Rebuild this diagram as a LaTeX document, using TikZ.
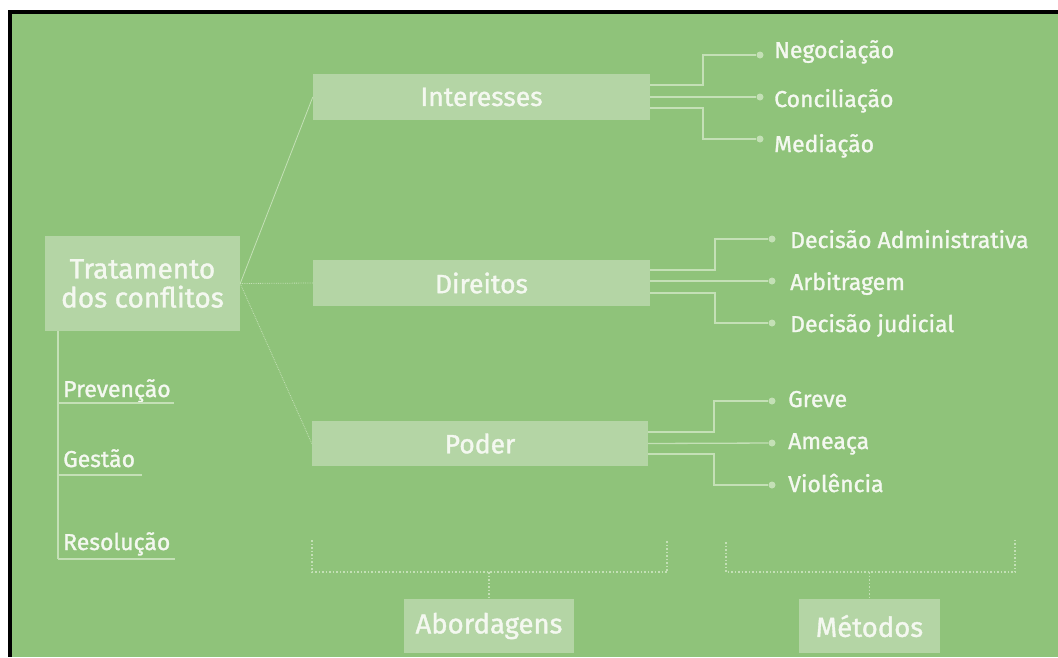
\documentclass[tikz,border=0pt]{standalone}
\usepackage{fontspec}
\setmainfont{Fira Sans}[FakeBold=1.3]
\usetikzlibrary{calc}
\definecolor{bg}{HTML}{8FC37A}
\definecolor{boxc}{HTML}{B4D5A5}
\definecolor{txt}{HTML}{F4F8F0}
\definecolor{lnc}{HTML}{C4E0B6}
\tikzset{
  box/.style={fill=boxc, draw=none, text=txt, inner sep=0pt, font=\fontsize{26.5}{30}\selectfont},
  lbl/.style={text=txt, inner sep=0pt, font=\fontsize{23}{26}\selectfont, anchor=base west},
  br/.style={draw=lnc, line width=1.3pt},
  conn/.style={draw=lnc, line width=0.8pt},
  dotc/.style={circle, fill=lnc, draw=none, minimum size=7pt, inner sep=0pt},
  brk/.style={draw=lnc, line width=1.4pt, dash pattern=on 1.5pt off 2pt}
}
\begin{document}
\begin{tikzpicture}[x=1pt,y=-1pt]
\useasboundingbox (0,0) rectangle (1058,657);
\fill[white] (0,0) rectangle (1058,657);
\fill[black] (8,10) rectangle (1058,657);
\fill[bg] (12,14) rectangle (1058,657);

% main boxes
\node[box, minimum width=195pt, minimum height=95pt, align=center, font=\fontsize{28}{29}\selectfont] (trat) at (142.5,283.5) {Tratamento\\dos conflitos};
\node[box, minimum width=337pt, minimum height=46pt] (int) at (481.5,97) {Interesses};
\node[box, minimum width=337pt, minimum height=46pt] (dir) at (481.5,283) {Direitos};
\node[box, minimum width=336pt, minimum height=45pt] (pod) at (480,443.5) {Poder};
\node[box, minimum width=170pt, minimum height=54pt, font=\fontsize{27.5}{30}\selectfont] (abo) at (489,626) {Abordagens};
\node[box, minimum width=141pt, minimum height=54pt, font=\fontsize{27.5}{30}\selectfont] (met) at (869.5,626) {Métodos};

% connectors from Tratamento
\draw[conn] (trat.east) -- (int.west);
\draw[conn, densely dotted] (trat.east) -- (dir.west);
\draw[conn, densely dotted] (trat.east) -- (pod.west);

% left column
\coordinate (vtop) at (58,331);
\coordinate (vbot) at (58,559);
\draw[br] (vtop) -- (vbot);
\node[lbl] (prev) at (63,397) {Prevenção};
\node[lbl] (gest) at (63,467) {Gestão};
\node[lbl] (reso) at (63,550) {Resolução};
\coordinate (u1) at (58,403); \coordinate (u1e) at (174,403);
\coordinate (u2) at (58,475); \coordinate (u2e) at (142,475);
\coordinate (u3) at (58,559); \coordinate (u3e) at (175,559);
\draw[br] (u1) -- (u1e);
\draw[br] (u2) -- (u2e);
\draw[br] (u3) -- (u3e);

% Interesses methods
\node[dotc] (i1) at (760,55) {};
\node[dotc] (i2) at (760,97) {};
\node[dotc] (i3) at (760,139) {};
\draw[br] ($(int.east)+(0,-12)$) -- (703,85) |- (i1);
\draw[br] (int.east) -- (i2);
\draw[br] ($(int.east)+(0,11)$) -- (703,108) |- (i3);
\node[lbl] (neg) at (774,58) {Negociação};
\node[lbl] (con) at (774,107) {Conciliação};
\node[lbl] (med) at (774,152) {Mediação};

% Direitos methods
\node[dotc] (d1) at (772,239) {};
\node[dotc] (d2) at (772,281) {};
\node[dotc] (d3) at (772,323) {};
\draw[br] ($(dir.east)+(0,-13)$) -- (715,270) |- (d1);
\draw[br] ($(dir.east)+(0,-2)$) -- (d2);
\draw[br] ($(dir.east)+(0,10)$) -- (715,293) |- (d3);
\node[lbl] (dad) at (790,248) {Decisão Administrativa};
\node[lbl] (arb) at (790,290) {Arbitragem};
\node[lbl] (dju) at (790,332) {Decisão judicial};

% Poder methods
\node[dotc] (p1) at (772,401) {};
\node[dotc] (p2) at (772,443) {};
\node[dotc] (p3) at (772,485) {};
\draw[br] ($(pod.east)+(0,-11.5)$) -- (714,432) |- (p1);
\draw[br] (pod.east) -- (p2);
\draw[br] ($(pod.east)+(0,10.5)$) -- (714,454) |- (p3);
\node[lbl] (gre) at (788,407) {Greve};
\node[lbl] (ame) at (788,449) {Ameaça};
\node[lbl] (vio) at (788,492) {Violência};

% brackets
\coordinate (b1a) at (312,540); \coordinate (b1b) at (312,572);
\coordinate (b1c) at (667,572); \coordinate (b1d) at (667,539);
\coordinate (b1m) at (489,572);
\draw[brk] (b1a) -- (b1b) -- (b1c) -- (b1d);
\draw[brk] (b1m) -- (abo.north);
\coordinate (b2a) at (726,542); \coordinate (b2b) at (726,572);
\coordinate (b2c) at (1015,572); \coordinate (b2d) at (1015,539);
\coordinate (b2m) at (869.5,572);
\draw[brk] (b2a) -- (b2b) -- (b2c) -- (b2d);
\draw[brk] (b2m) -- (met.north);
\end{tikzpicture}
\end{document}
